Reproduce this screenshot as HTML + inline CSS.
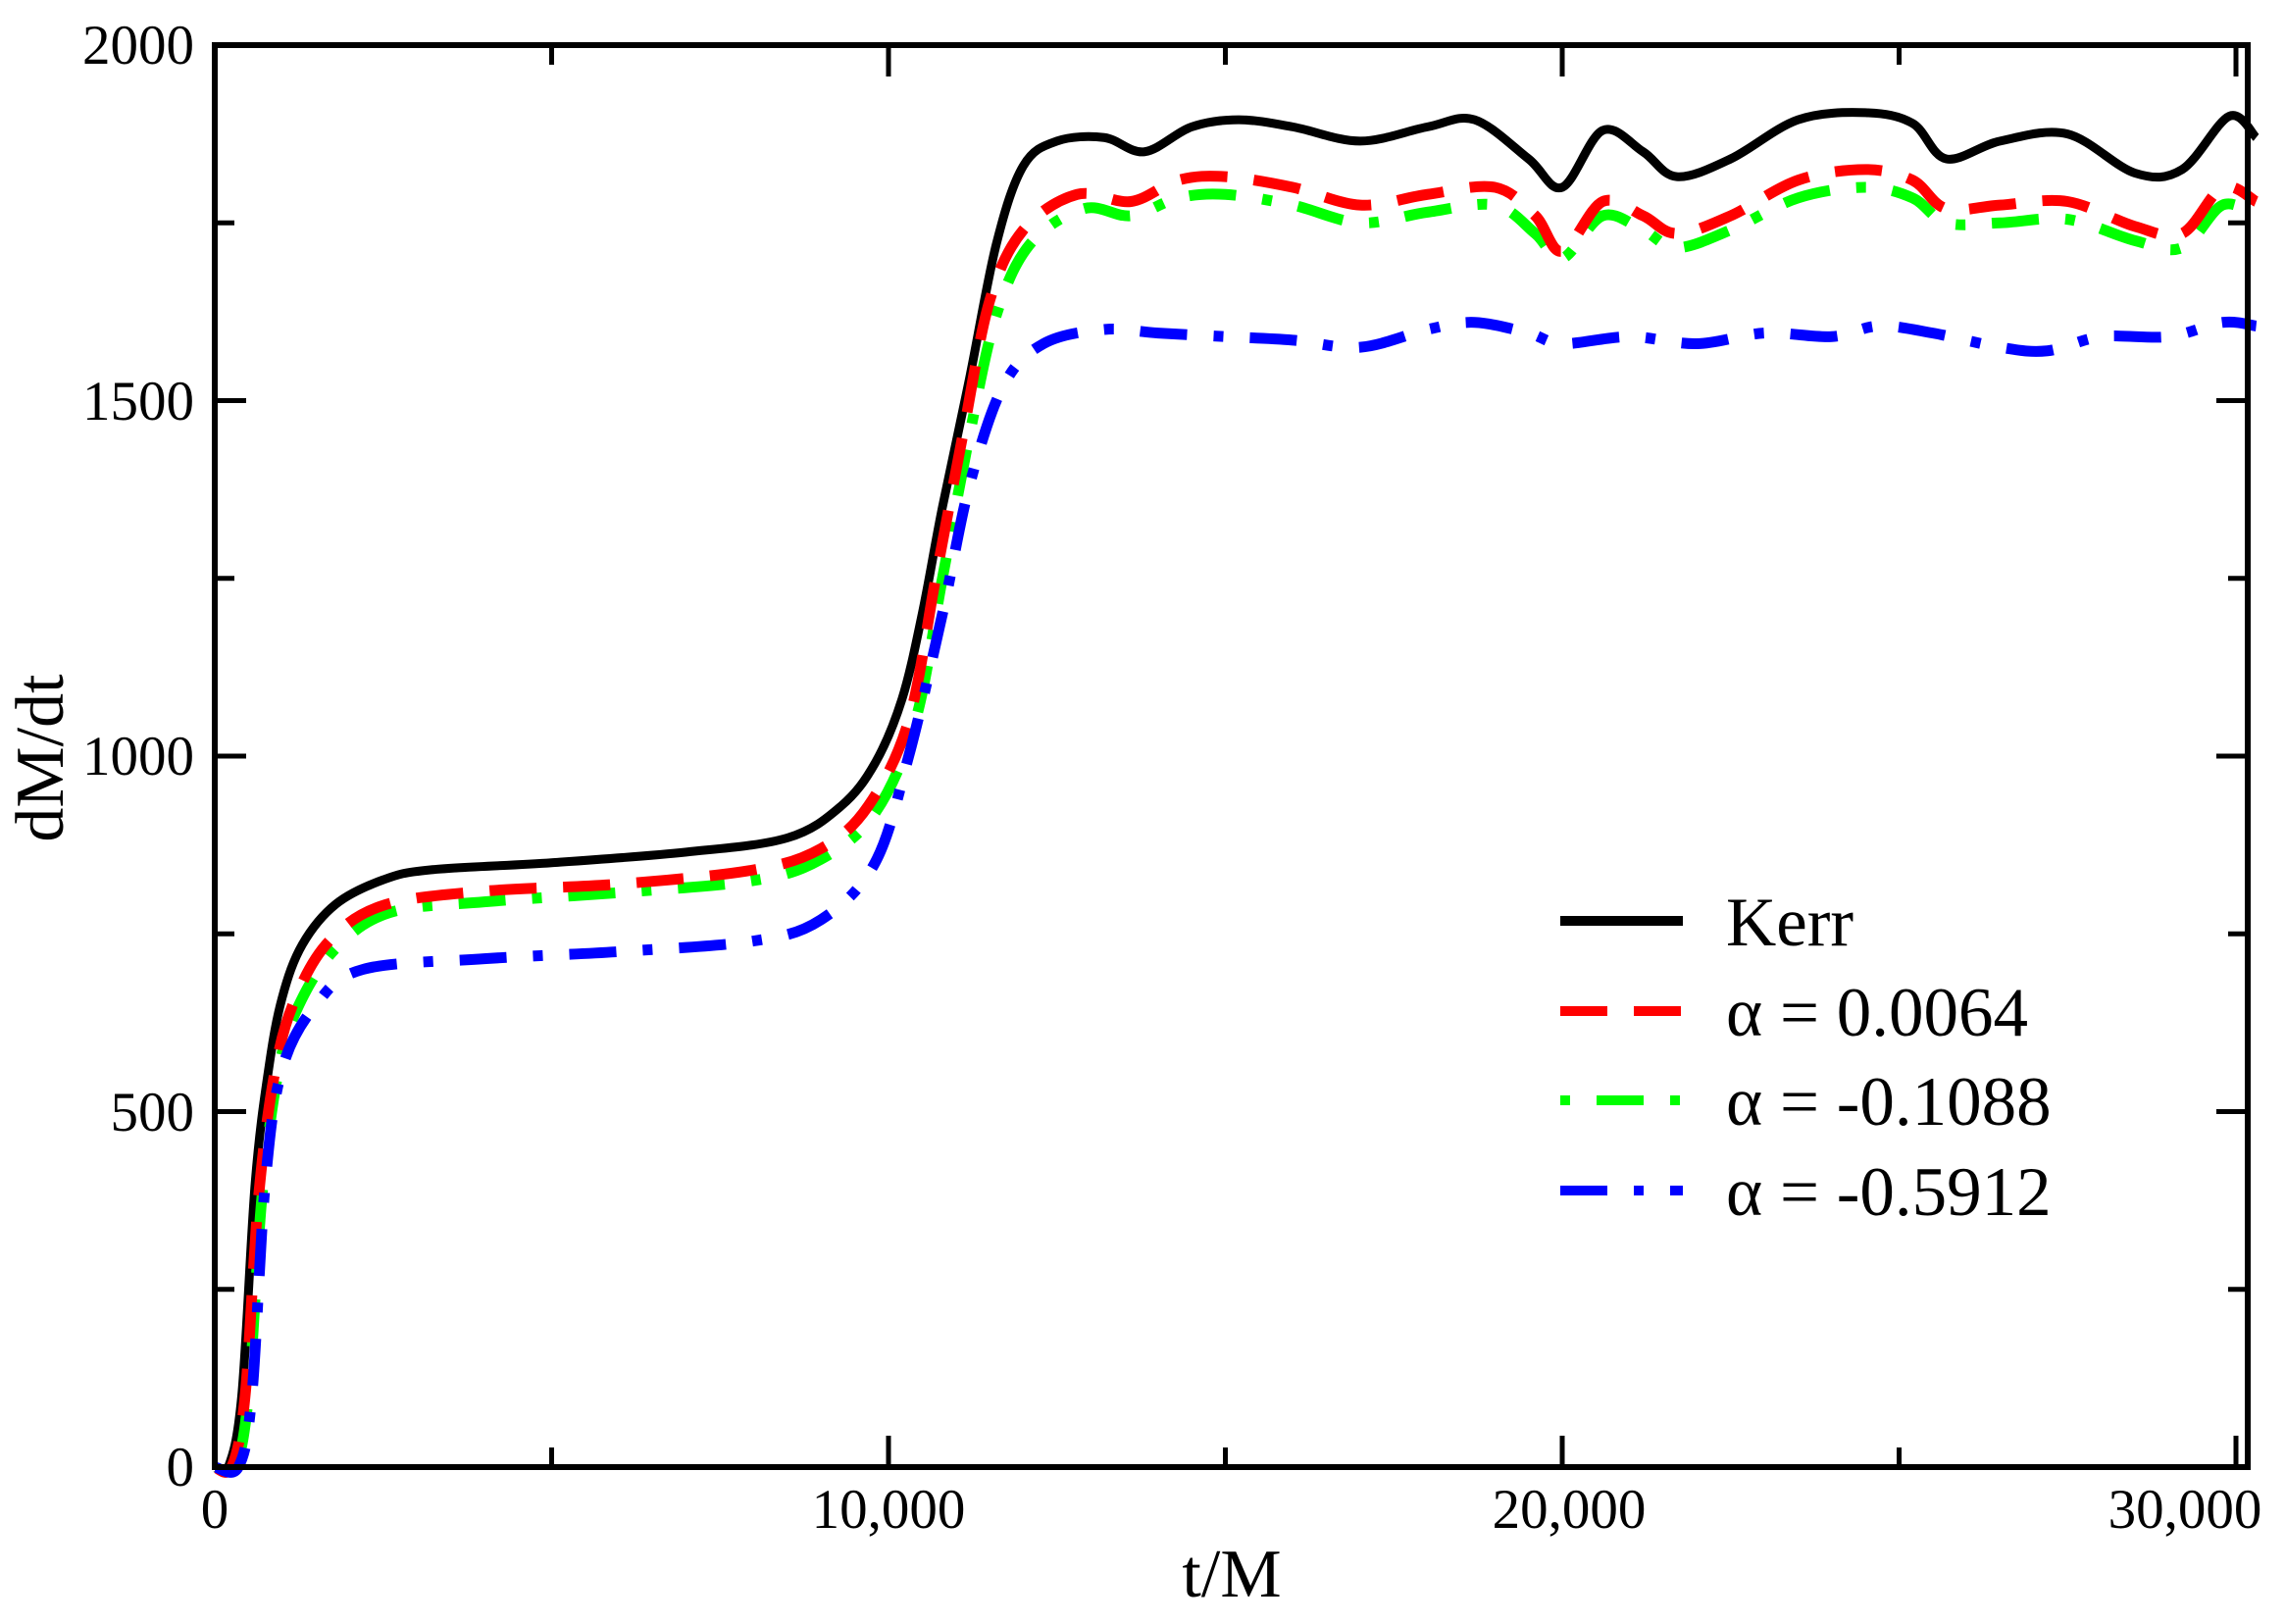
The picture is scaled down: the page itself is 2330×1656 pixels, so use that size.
<!DOCTYPE html>
<html><head><meta charset="utf-8"><style>
html,body{margin:0;padding:0;background:#fff;}
svg{display:block;}
text{font-family:"Liberation Serif",serif;fill:#000;}
</style></head><body>
<svg id="s" width="2330" height="1656" viewBox="0 0 2330 1656" xmlns="http://www.w3.org/2000/svg">
<g id="curves" fill="none" stroke-linejoin="round"></g>
<g id="ticks" stroke="#000" stroke-width="5"></g>
<rect x="219" y="46" width="2073" height="1450" fill="none" stroke="#000" stroke-width="6"/>
<g font-size="57" text-anchor="end">
<text x="198" y="1515">0</text>
<text x="198" y="1153">500</text>
<text x="198" y="790">1000</text>
<text x="198" y="428">1500</text>
<text x="198" y="65">2000</text>
</g>
<g font-size="57" text-anchor="middle">
<text x="219" y="1558">0</text>
<text x="906" y="1558">10,000</text>
<text x="1600" y="1558">20,000</text>
<text x="2228" y="1558">30,000</text>
</g>
<text x="1256" y="1628" font-size="70" text-anchor="middle">t/M</text>
<text transform="translate(64,773) rotate(-90)" font-size="70" text-anchor="middle">dM/dt</text>
<g stroke-width="10">
<line x1="1591" y1="939" x2="1716" y2="939" stroke="#000"/>
<line x1="1591" y1="1031" x2="1716" y2="1031" stroke="#f00" stroke-dasharray="48 27"/>
<line x1="1591" y1="1122" x2="1716" y2="1122" stroke="#0f0" stroke-dasharray="10 27 48 27"/>
<line x1="1591" y1="1214" x2="1716" y2="1214" stroke="#00f" stroke-dasharray="48 27 10 27"/>
</g>
<g font-size="71">
<text x="1760" y="964">Kerr</text>
<text x="1760" y="1056">α = 0.0064</text>
<text x="1760" y="1147">α = -0.1088</text>
<text x="1760" y="1239">α = -0.5912</text>
</g>
</svg>
<script>
(function(){
var NS="http://www.w3.org/2000/svg";
function X(t){return 219+t*0.0687;}
function Y(v){return 1496-v*0.725;}
var ticks=document.getElementById('ticks');
function ln(x1,y1,x2,y2){var l=document.createElementNS(NS,'line');l.setAttribute('x1',x1);l.setAttribute('y1',y1);l.setAttribute('x2',x2);l.setAttribute('y2',y2);ticks.appendChild(l);}
for(var t=5000;t<30200;t+=5000){var x=X(t),L=(t%10000==0)?32:20;ln(x,1496,x,1496-L);ln(x,46,x,46+L);}
for(var v=250;v<2000;v+=250){var y=Y(v),L=(v%500==0)?32:20;ln(219,y,219+L,y);ln(2292,y,2292-L,y);}
var series=[
{c:"#000",d:"",p:[[0,0],[200,0],[400,100],[600,400],[800,560],[1000,660],[1300,735],[1800,792],[2500,826],[3200,840],[5000,850],[7000,865],[8500,885],[9300,930],[9800,990],[10200,1080],[10500,1200],[10800,1350],[11200,1530],[11600,1720],[12000,1830],[12500,1865],[13200,1870],[13800,1850],[14500,1885],[15200,1895],[16000,1885],[17000,1865],[18000,1885],[18700,1895],[19500,1840],[20000,1800],[20600,1880],[21200,1850],[21700,1815],[22500,1840],[23500,1895],[24500,1905],[25200,1890],[25700,1840],[26500,1865],[27500,1875],[28500,1820],[29200,1825],[29900,1900],[30300,1870]]},
{c:"#0f0",d:"10 27 48 27",p:[[0,0],[300,0],[500,100],[700,380],[950,560],[1250,650],[1800,730],[2600,780],[4000,795],[6000,808],[8000,825],[9000,855],[9800,920],[10400,1050],[10800,1250],[11200,1450],[11600,1620],[12100,1720],[12900,1770],[13600,1760],[14300,1785],[15000,1790],[16000,1775],[17000,1750],[18000,1765],[19000,1775],[19600,1735],[20000,1700],[20600,1760],[21200,1740],[21700,1715],[22500,1740],[23500,1785],[24500,1800],[25200,1785],[25700,1750],[26500,1750],[27500,1755],[28500,1725],[29200,1715],[29800,1775],[30300,1760]]},
{c:"#f00",d:"48 27",p:[[0,0],[250,0],[450,100],[650,380],[900,560],[1200,660],[1700,740],[2500,790],[4000,810],[6000,820],[8000,840],[9000,870],[9700,930],[10300,1050],[10700,1250],[11100,1450],[11500,1640],[12000,1740],[12800,1790],[13600,1780],[14300,1810],[15000,1815],[16000,1800],[17000,1775],[18000,1790],[19000,1800],[19600,1760],[20000,1710],[20600,1780],[21200,1760],[21700,1735],[22500,1760],[23500,1810],[24500,1825],[25200,1810],[25700,1770],[26500,1775],[27500,1780],[28500,1745],[29200,1735],[29800,1800],[30300,1780]]},
{c:"#00f",d:"48 27 10 27",p:[[0,0],[350,0],[550,100],[750,400],[1000,560],[1500,650],[2200,700],[4000,715],[6000,725],[8000,740],[9000,770],[9800,850],[10300,1000],[10800,1200],[11200,1380],[11700,1520],[12300,1580],[13200,1600],[14000,1595],[15000,1590],[16000,1585],[17000,1575],[18000,1600],[18700,1610],[19500,1595],[20000,1580],[21000,1590],[22000,1580],[23000,1595],[24000,1590],[24700,1605],[25500,1595],[26500,1575],[27200,1570],[28000,1590],[29000,1590],[29800,1610],[30300,1605]]}
];
var g=document.getElementById('curves');
series.forEach(function(s){
 var P=s.p.map(function(q){return [X(q[0]),Y(q[1])];});
 var d="M"+P[0][0]+","+P[0][1];
 for(var i=0;i<P.length-1;i++){
  var p0=P[i-1]||P[i],p1=P[i],p2=P[i+1],p3=P[i+2]||P[i+1];
  var c1x=p1[0]+(p2[0]-p0[0])/6,c1y=p1[1]+(p2[1]-p0[1])/6;
  var c2x=p2[0]-(p3[0]-p1[0])/6,c2y=p2[1]-(p3[1]-p1[1])/6;
  d+=" C"+c1x+","+c1y+" "+c2x+","+c2y+" "+p2[0]+","+p2[1];
 }
 var path=document.createElementNS(NS,'path');
 path.setAttribute('d',d);path.setAttribute('stroke',s.c);path.setAttribute('stroke-width',s.d?11:9);
 if(s.d)path.setAttribute('stroke-dasharray',s.d);
 g.appendChild(path);
});
})();
</script>
</body></html>
